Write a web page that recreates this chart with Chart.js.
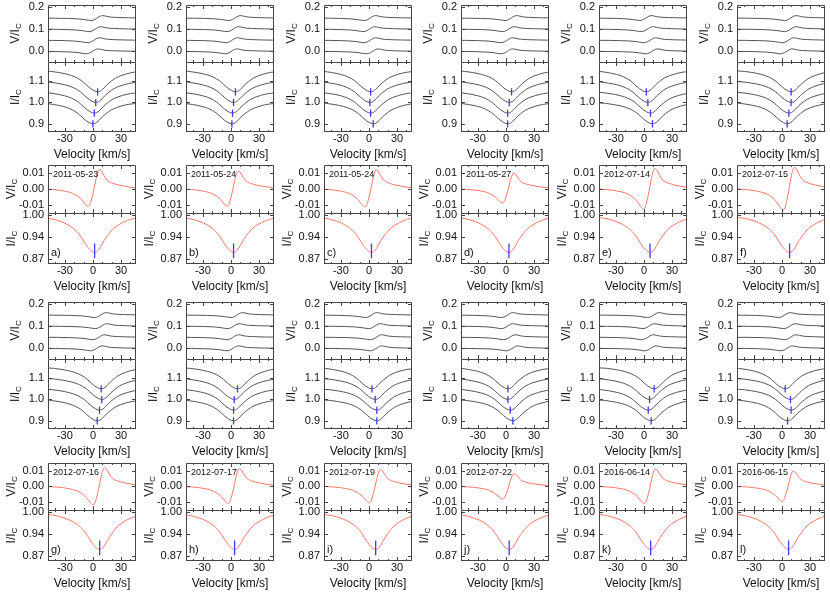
<!DOCTYPE html>
<html>
<head>
<meta charset="utf-8">
<script src="https://cdn.jsdelivr.net/npm/chart.js@4.4.0/dist/chart.umd.min.js"></script>
<style>
  html, body { margin: 0; padding: 0; background: #fff; }
  #fig { position: relative; width: 830px; height: 593px; overflow: hidden; }
  #fig canvas { position: absolute; }
</style>
</head>
<body>
<div id="fig"></div>
<script>
// --- datos ---
const dates = ['2011-05-23', '2011-05-24', '2011-05-24', '2011-05-27', '2012-07-14', '2012-07-15',
               '2012-07-16', '2012-07-17', '2012-07-19', '2012-07-22', '2016-06-14', '2016-06-15'];
const letters = ['a)', 'b)', 'c)', 'd)', 'e)', 'f)', 'g)', 'h)', 'i)', 'j)', 'k)', 'l)'];

// centro (km/s) de cada perfil rojo y extremos de V/Ic
const redCenter = [1.8, 2.8, 2.7, 3.2, 6.5, 8.2, 7.2, 3.9, 7.2, 3.5, 7.2, 7.1];
const redVMin = [-0.011, -0.011, -0.0114, -0.0089, -0.0127, -0.0135, -0.012, -0.011, -0.0106, -0.0084, -0.011, -0.0097];
const redVMax = [0.012, 0.011, 0.0118, 0.0097, 0.0127, 0.0133, 0.0118, 0.0112, 0.0106, 0.008, 0.011, 0.0097];

// centros de los 4 perfiles grises de cada panel (de abajo hacia arriba)
const greyCenters = [
  [0, 1.5, 3, 5], [1.0, 1.7, 2.8, 4.8], [4.6, 1.8, 1.0, 1.8],
  [1.8, 1.8, 3.5, 6], [9.1, 7, 4.2, 2.5], [5.6, 7.4, 9.8, 9.8],
  [4.6, 7, 9.5, 8.8], [2.8, 2.8, 3.5, 7], [8.4, 8.4, 6.7, 3.2],
  [7.4, 4.6, 2.1, 2.1], [7.7, 4.6, 6, 10.9], [6, 9.8, 9.1, 3.5]
];
const greyVAmp = 0.011;
const stackStep = [0, 0.05, 0.1, 0.15];

// forma de los perfiles (velocidad relativa al centro)
const profVel = [-62, -50, -42, -32, -24, -17, -13, -10, -7, -4, -2, 0, 2, 4, 7, 10, 14, 19, 25, 35, 42, 55];
const greyIProf = [0.998, 0.995, 0.990, 0.981, 0.969, 0.951, 0.936, 0.924, 0.913, 0.905, 0.901, 0.900, 0.901, 0.906, 0.918, 0.932, 0.947, 0.963, 0.975, 0.988, 0.993, 0.997];
const redIProf = [0.995, 0.992, 0.987, 0.977, 0.964, 0.946, 0.930, 0.917, 0.905, 0.896, 0.892, 0.891, 0.892, 0.897, 0.910, 0.925, 0.941, 0.958, 0.971, 0.985, 0.991, 0.995];
const vVel = [-62, -45, -32, -21, -14, -10, -7, -5, -3, -1, 1, 3, 5, 7, 9, 12, 15, 19, 25, 33, 43, 60];
const vShape = [0, -0.05, -0.14, -0.33, -0.62, -0.88, -1.0, -0.9, -0.55, -0.12, 0.4, 0.82, 1.0, 0.95, 0.78, 0.52, 0.38, 0.29, 0.2, 0.12, 0.05, 0];

// ticks
const xTicks = [-30, 0, 30];
const greyVTicks = [0, 0.1, 0.2];
const greyITicks = [0.9, 1.0, 1.1];
const redVTicks = [-0.01, 0, 0.01];
const redITicks = [0.87, 0.935, 1.0];

// --- layout ---
const FONT = "'Liberation Sans', Arial, sans-serif";
const X_MIN = -48, X_MAX = 46;
const AXW = 48;
const plotW = 88;
const PADT = 8;
const colLeft = c => Math.round(48 + 137.8 * c);
const rows = [
  { type: 'grey', vTop: 5, split: 62, iBot: 132, first: 0 },
  { type: 'red', vTop: 165, split: 213, iBot: 264, first: 0 },
  { type: 'grey', vTop: 302, split: 359, iBot: 429, first: 6 },
  { type: 'red', vTop: 463, split: 510, iBot: 561, first: 6 }
];
const GREY = '#555';
const RED = '#ff7565';
const BLUE = '#3c3cf0';
const fig = document.getElementById('fig');

function drawFrame(chart, o) {
  const ctx = chart.ctx, a = chart.chartArea;
  const xs = chart.scales.x, ys = chart.scales.y;
  const line = (x1, y1, x2, y2) => { ctx.beginPath(); ctx.moveTo(x1, y1); ctx.lineTo(x2, y2); ctx.stroke(); };
  ctx.save();
  ctx.strokeStyle = '#444';
  ctx.lineWidth = 1;
  const l = a.left + 0.5, r = a.right - 0.5, t = a.top + 0.5, b = a.bottom - 0.5;
  line(l, t, r, t);
  line(l, t, l, b + 0.5);
  line(r, t, r, b + 0.5);
  if (!o.isV) line(l, b, r, b);
  // ticks hacia adentro
  for (let v = -40; v <= 40; v += 10) {
    const px = Math.round(xs.getPixelForValue(v)) + 0.5;
    const len = xTicks.includes(v) ? 4 : 2;
    line(px, a.bottom, px, a.bottom - len);
    line(px, a.top, px, a.top + len);
  }
  o.yTicks.forEach(v => {
    const py = Math.round(ys.getPixelForValue(v)) + 0.5;
    line(a.left, py, a.left + 4, py);
    line(a.right, py, a.right - 4, py);
  });
  ctx.fillStyle = '#111';
  // titulo eje y con subindice
  ctx.save();
  ctx.translate(a.left - o.titleOff, (a.top + a.bottom) / 2);
  ctx.rotate(-Math.PI / 2);
  ctx.textBaseline = 'middle';
  ctx.textAlign = 'left';
  ctx.font = '12px ' + FONT;
  const wMain = ctx.measureText(o.yTitle).width;
  ctx.font = '8px ' + FONT;
  const wSub = ctx.measureText('C').width;
  const x0 = -(wMain + wSub) / 2;
  ctx.font = '12px ' + FONT;
  ctx.fillText(o.yTitle, x0, 0);
  ctx.font = '8px ' + FONT;
  ctx.fillText('C', x0 + wMain, 3);
  ctx.restore();
  if (!o.isV) {
    ctx.font = '12px ' + FONT;
    ctx.textAlign = 'center';
    ctx.textBaseline = 'middle';
    ctx.fillText('Velocity [km/s]', (a.left + a.right) / 2, a.bottom + 23);
  }
  if (o.date) {
    ctx.font = '9px ' + FONT;
    ctx.textAlign = 'left';
    ctx.textBaseline = 'middle';
    ctx.fillText(o.date, a.left + 5, a.top + 10);
  }
  if (o.letter) {
    ctx.font = '11px ' + FONT;
    ctx.textAlign = 'left';
    ctx.textBaseline = 'middle';
    ctx.fillText(o.letter, a.left + 3, a.bottom - 11);
  }
  ctx.restore();
}

let nChart = 0;
function panel(o) {
  const cv = document.createElement('canvas');
  const w = AXW + plotW + 3;
  const xh = o.isV ? 0 : 34;
  const h = o.plotH + PADT + xh;
  cv.width = w; cv.height = h;
  cv.style.left = (o.left - AXW) + 'px';
  cv.style.top = (o.top - PADT) + 'px';
  cv.style.width = w + 'px';
  cv.style.height = h + 'px';
  fig.appendChild(cv);
  nChart++;
  const noPad = ax => { ax.paddingTop = 0; ax.paddingBottom = 0; ax.paddingLeft = 0; ax.paddingRight = 0; };
  new Chart(cv, {
    type: 'line',
    data: { datasets: o.datasets },
    options: {
      responsive: false,
      animation: false,
      devicePixelRatio: 1,
      layout: { padding: { top: PADT, right: 3, left: 0, bottom: 0 } },
      plugins: { legend: { display: false }, tooltip: { enabled: false } },
      elements: {
        point: { radius: 0 },
        line: { borderWidth: 1, cubicInterpolationMode: 'monotone' }
      },
      scales: {
        x: {
          type: 'linear', min: X_MIN, max: X_MAX, display: !o.isV,
          grid: { display: false, drawTicks: false }, border: { display: false },
          afterBuildTicks: ax => { ax.ticks = xTicks.map(v => ({ value: v })); },
          afterFit: ax => { ax.height = xh; noPad(ax); },
          ticks: { font: { family: FONT, size: 11 }, color: '#111', padding: 0, maxRotation: 0, autoSkip: false }
        },
        y: {
          type: 'linear', min: o.yMin, max: o.yMax,
          grid: { display: false, drawTicks: false }, border: { display: false },
          afterBuildTicks: ax => { ax.ticks = o.yTicks.map(v => ({ value: v })); },
          afterFit: ax => { ax.width = AXW; noPad(ax); },
          ticks: { font: { family: FONT, size: 11 }, color: '#111', padding: 4, autoSkip: false,
                   callback: v => v.toFixed(o.dec) }
        }
      }
    },
    plugins: [{ id: 'frame' + nChart, afterDraw: chart => drawFrame(chart, o) }]
  });
}

function marker(c, lo, hi) {
  return { data: [{ x: c, y: lo }, { x: c, y: hi }], borderColor: BLUE, borderWidth: 1.3, order: 0 };
}

rows.forEach(row => {
  for (let c = 0; c < 6; c++) {
    const p = row.first + c;
    const left = colLeft(c);
    if (row.type === 'grey') {
      const cs = greyCenters[p];
      const vSets = cs.map((ctr, k) => ({
        data: vVel.map((r, i) => ({ x: r + ctr, y: stackStep[k] + vShape[i] * greyVAmp })),
        borderColor: GREY, order: 1
      }));
      const iSets = cs.map((ctr, k) => ({
        data: profVel.map((r, i) => ({ x: r + ctr, y: stackStep[k] + greyIProf[i] })),
        borderColor: GREY, order: 1
      }));
      const marks = cs.map((ctr, k) => marker(ctr, stackStep[k] + 0.882, stackStep[k] + 0.916));
      panel({ left, top: row.vTop, plotH: row.split - row.vTop, isV: true, yMin: -0.048, yMax: 0.209,
              yTicks: greyVTicks, dec: 1, yTitle: 'V/I', titleOff: 32, datasets: vSets });
      panel({ left, top: row.split, plotH: row.iBot - row.split, isV: false, yMin: 0.861, yMax: 1.189,
              yTicks: greyITicks, dec: 1, yTitle: 'I/I', titleOff: 32, datasets: marks.concat(iSets) });
    } else {
      const ctr = redCenter[p];
      const vData = vVel.map((r, i) => ({ x: r + ctr, y: vShape[i] < 0 ? -vShape[i] * redVMin[p] : vShape[i] * redVMax[p] }));
      const iData = profVel.map((r, i) => ({ x: r + ctr, y: redIProf[i] }));
      panel({ left, top: row.vTop, plotH: row.split - row.vTop, isV: true, yMin: -0.0153, yMax: 0.0149,
              yTicks: redVTicks, dec: 2, yTitle: 'V/I', titleOff: 36, date: dates[p],
              datasets: [{ data: vData, borderColor: RED, order: 1 }] });
      panel({ left, top: row.split, plotH: row.iBot - row.split, isV: false, yMin: 0.856, yMax: 1.007,
              yTicks: redITicks, dec: 2, yTitle: 'I/I', titleOff: 36, letter: letters[p],
              datasets: [marker(ctr, 0.873, 0.917), { data: iData, borderColor: RED, order: 1 }] });
    }
  }
});
</script>
</body>
</html>
